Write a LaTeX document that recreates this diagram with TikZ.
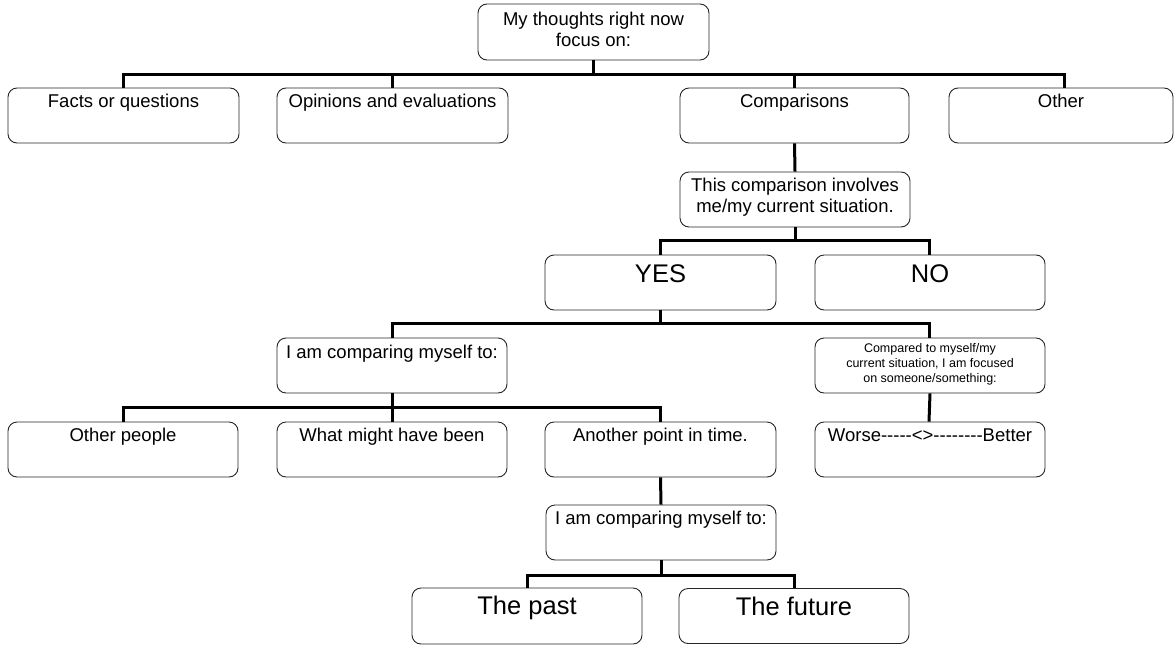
\documentclass[tikz,border=0pt]{standalone}
\usepackage{fontspec}
\setmainfont{Liberation Sans}
\newcommand\hy{\mbox{-}}
\begin{document}
\begin{tikzpicture}[x=1pt,y=-1pt,
  box/.style={draw=black!85, line width=0.9pt, rounded corners=9pt,
    minimum width=#1, minimum height=55pt, inner sep=0pt},
  box/.default=230pt,
  txt/.style={anchor=base, inner sep=0pt, align=center,
    font=\fontsize{18.5}{21}\selectfont},
  bigtxt/.style={anchor=base, inner sep=0pt,
    font=\fontsize{25.5}{30}\selectfont},
  smalltxt/.style={anchor=base, inner sep=0pt, align=center,
    font=\fontsize{12.5}{15}\selectfont},
  conn/.style={line width=3pt, black}
]
\useasboundingbox (0,0) rectangle (1175,645);

% boxes
\node[box=231pt, minimum height=56pt] (top) at (593.5,32) {};
\node[box=231pt] (facts) at (123.5,115.5) {};
\node[box=231pt] (opin) at (392.5,115.5) {};
\node[box=229pt] (comp) at (794.5,115.5) {};
\node[box=224pt] (other) at (1061,115.5) {};
\node[box] (cmpq) at (795,199.5) {};
\node[box=231pt] (yes) at (660.5,282.5) {};
\node[box] (no) at (930,282.5) {};
\node[box] (iam) at (392,365.5) {};
\node[box] (compd) at (930,365.5) {};
\node[box] (people) at (123,449.5) {};
\node[box] (might) at (392,449.5) {};
\node[box=231pt] (another) at (660.5,449.5) {};
\node[box] (worse) at (930,449.5) {};
\node[box] (iam2) at (661,532.5) {};
\node[box, minimum height=56pt] (past) at (527,616) {};
\node[box] (future) at (794,616) {};

% texts (anchor base = baseline of the last line)
\node[txt] (top-t) at ([yshift=-43pt]top.north) {My thoughts right now\\focus on:};
\node[txt] (facts-t) at ([yshift=-20pt]facts.north) {Facts or questions};
\node[txt] (opin-t) at ([yshift=-20pt]opin.north) {Opinions and evaluations};
\node[txt] (comp-t) at ([yshift=-20pt]comp.north) {Comparisons};
\node[txt] (other-t) at ([yshift=-20pt]other.north) {Other};
\node[txt] (cmpq-t) at ([yshift=-41pt]cmpq.north) {This comparison involves\\me/my current situation.};
\node[bigtxt] (yes-t) at ([yshift=-28pt]yes.north) {YES};
\node[bigtxt] (no-t) at ([yshift=-28pt]no.north) {NO};
\node[txt] (iam-t) at ([yshift=-21pt]iam.north) {I am comparing myself to:};
\node[smalltxt] (compd-t) at ([yshift=-45pt]compd.north) {Compared to myself/my\\current situation, I am focused\\on someone/something:};
\node[txt] (people-t) at ([yshift=-20pt]people.north) {Other people};
\node[txt] (might-t) at ([yshift=-20pt]might.north) {What might have been};
\node[txt] (another-t) at ([yshift=-20pt]another.north) {Another point in time.};
\node[txt] (worse-t) at ([yshift=-20pt]worse.north) {Worse\hy\hy\hy\hy\hy<>\hy\hy\hy\hy\hy\hy\hy\hy Better};
\node[txt] (iam2-t) at ([yshift=-20pt]iam2.north) {I am comparing myself to:};
\node[bigtxt] (past-t) at ([yshift=-27pt]past.north) {The past};
\node[bigtxt] (future-t) at ([yshift=-27pt]future.north) {The future};

% connectors
\draw[conn] (top.south) -- ++(0,14) -| (facts.north);
\draw[conn] (top.south) -- ++(0,14) -| (opin.north);
\draw[conn] (top.south) -- ++(0,14) -| (comp.north);
\draw[conn] (top.south) -- ++(0,14) -| ([xshift=3pt]other.north);
\draw[conn] (comp.south) -- (cmpq.north);
\draw[conn] (cmpq.south) -- ++(0,13) -| (yes.north);
\draw[conn] (cmpq.south) -- ++(0,13) -| ([xshift=-1pt]no.north);
\draw[conn] (yes.south) -- ++(0,13) -| (iam.north);
\draw[conn] (yes.south) -- ++(0,13) -| ([xshift=-1pt]compd.north);
\draw[conn] (compd.south) -- ([xshift=-1pt]worse.north);
\draw[conn] (iam.south) -- ++(0,14) -| (people.north);
\draw[conn] (iam.south) -- ++(0,14) -| (might.north);
\draw[conn] (iam.south) -- ++(0,14) -| (another.north);
\draw[conn] (another.south) -- (iam2.north);
\draw[conn] (iam2.south) -- ++(0,15) -| (past.north);
\draw[conn] (iam2.south) -- ++(0,15) -| (future.north);
\end{tikzpicture}
\end{document}
